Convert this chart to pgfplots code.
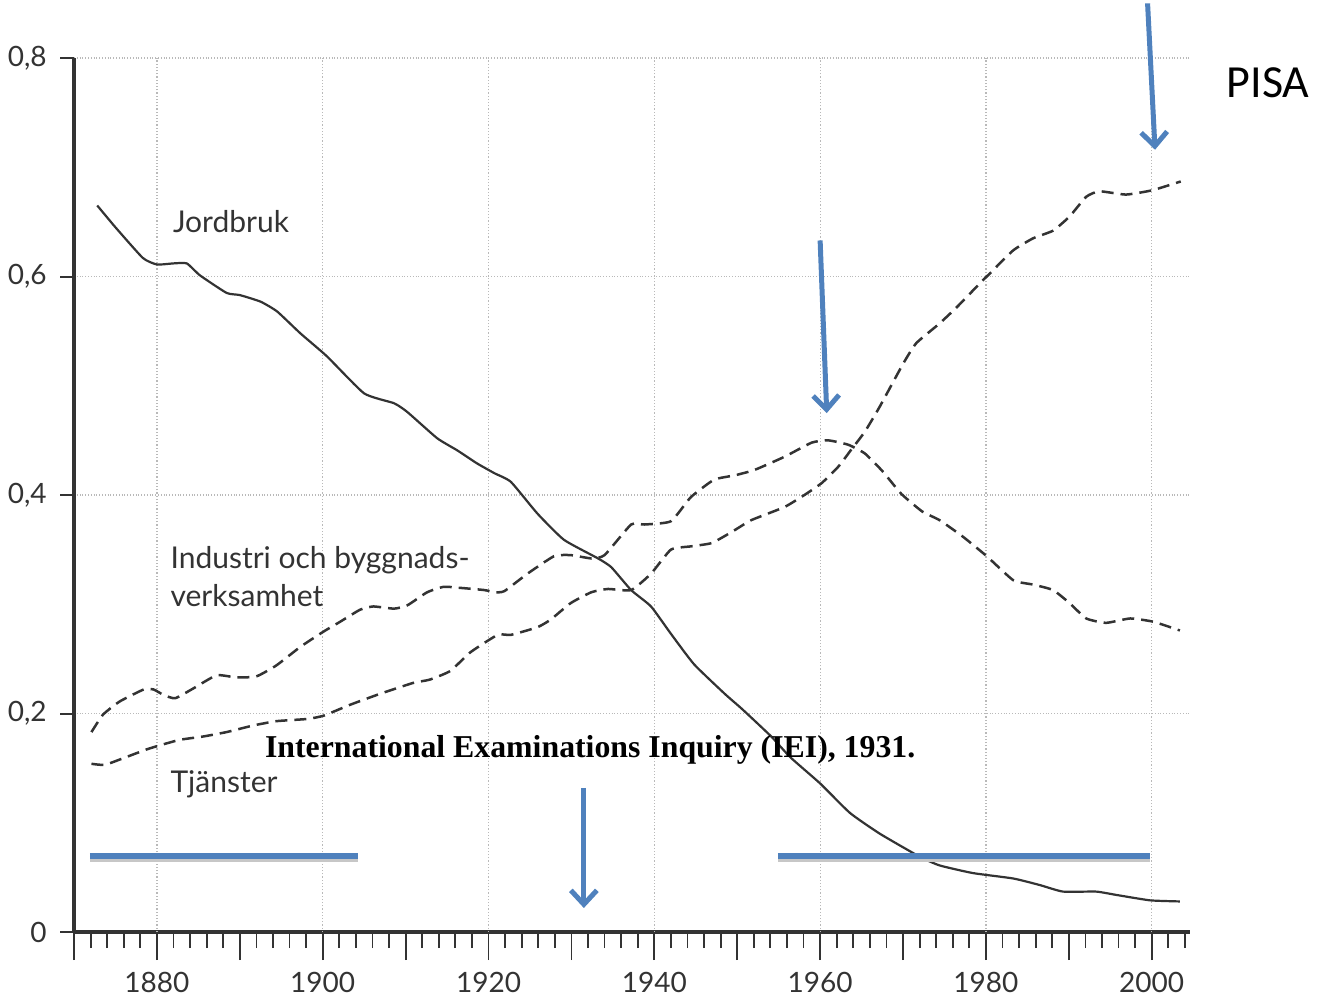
\documentclass[border=0pt]{standalone}
\usepackage{pgfplots}
\pgfplotsset{compat=1.18}
\usepackage{fontspec}
\setmainfont{Lato}
\newfontfamily\pisafont{Carlito}
\newfontfamily\timesfont{Liberation Serif}
\usetikzlibrary{arrows.meta}
\definecolor{ink}{HTML}{333333}
\definecolor{officeblue}{HTML}{4F81BD}

\pgfplotstableread{
year value
1872.8 0.665
1875.0 0.645
1878.3 0.617
1880.0 0.611
1882.0 0.612
1883.6 0.612
1885.2 0.601
1888.4 0.585
1890.0 0.583
1892.5 0.577
1894.5 0.568
1897.3 0.548
1900.5 0.527
1905.0 0.493
1908.6 0.484
1910.2 0.476
1913.8 0.452
1916.2 0.441
1918.6 0.429
1920.7 0.420
1922.7 0.412
1925.9 0.383
1929.1 0.359
1933.2 0.342
1934.8 0.334
1937.2 0.313
1939.6 0.298
1942.0 0.273
1944.8 0.245
1948.5 0.218
1950.6 0.204
1954.1 0.179
1956.4 0.160
1960.0 0.136
1963.6 0.109
1967.2 0.090
1972.0 0.069
1974.4 0.061
1978.4 0.054
1983.3 0.049
1986.5 0.043
1989.3 0.037
1993.3 0.037
1995.7 0.034
1999.8 0.029
2003.4 0.028
}\jordbruk

\pgfplotstableread{
year value
1872.1 0.183
1873.5 0.199
1875.5 0.211
1878.4 0.222
1879.6 0.222
1880.8 0.217
1882.2 0.214
1884.4 0.223
1887.2 0.235
1889.6 0.233
1892.0 0.234
1894.4 0.244
1897.3 0.261
1900.1 0.275
1902.1 0.284
1904.5 0.295
1906.1 0.298
1908.6 0.296
1910.2 0.299
1912.6 0.311
1914.6 0.316
1916.6 0.315
1919.5 0.313
1920.7 0.311
1921.9 0.312
1924.7 0.328
1927.9 0.344
1929.9 0.345
1932.4 0.342
1934.0 0.345
1937.2 0.373
1938.8 0.373
1942.0 0.376
1944.4 0.398
1947.2 0.414
1949.7 0.418
1952.1 0.423
1955.7 0.435
1959.0 0.448
1961.0 0.450
1963.4 0.446
1965.4 0.438
1967.5 0.422
1969.8 0.401
1972.3 0.385
1974.4 0.377
1977.2 0.362
1980.1 0.344
1983.3 0.322
1985.7 0.318
1988.1 0.313
1990.1 0.301
1992.1 0.287
1994.5 0.283
1997.4 0.287
2000.2 0.284
2003.4 0.276
}\industri

\pgfplotstableread{
year value
1872.1 0.154
1873.7 0.153
1875.9 0.159
1878.7 0.167
1880.4 0.171
1882.8 0.176
1885.6 0.179
1888.4 0.183
1891.6 0.189
1894.4 0.193
1898.1 0.195
1900.1 0.198
1903.3 0.208
1906.9 0.218
1910.9 0.228
1912.9 0.231
1915.4 0.239
1917.8 0.256
1921.1 0.272
1922.7 0.272
1925.9 0.279
1927.5 0.286
1929.9 0.301
1932.4 0.311
1934.4 0.314
1937.2 0.313
1939.6 0.328
1942.0 0.350
1944.4 0.353
1946.9 0.356
1949.3 0.366
1951.7 0.377
1955.7 0.389
1958.1 0.400
1960.2 0.411
1962.2 0.426
1963.8 0.442
1965.4 0.458
1967.2 0.481
1970.0 0.520
1971.6 0.539
1974.4 0.557
1976.5 0.572
1979.3 0.594
1980.5 0.603
1983.3 0.624
1985.7 0.635
1988.1 0.642
1990.1 0.655
1992.1 0.673
1993.7 0.678
1996.9 0.675
2000.1 0.679
2003.5 0.687
}\tjanster

\begin{document}
\begin{tikzpicture}
\begin{axis}[
  scale only axis, width=557.9pt, height=437pt,
  xmin=1870, xmax=2004.6, ymin=0, ymax=0.8,
  axis x line=bottom, axis y line=left,
  axis line style={ink, line width=1.6pt, -},
  clip=false,
  xtick={1870,1880,...,2000},
  xticklabels={,1880,,1900,,1920,,1940,,1960,,1980,,2000},
  minor xtick={1870,1872,...,2004},
  ytick={0.2,0.4,0.6,0.8},
  yticklabels={},
  tick align=outside,
  major tick length=14pt, minor tick length=8pt,
  xtick style={ink, line width=0.9pt},
  minor x tick style={ink, line width=0.9pt},
  ytick style={draw=none},
  ymajorgrids,
  grid style={gray!55, densely dotted, line width=0.6pt},
  tick label style={font=\fontsize{14}{16}\selectfont, text=ink},
  xticklabel style={yshift=-2.5pt},
]
% vertical 20-year grid lines
\pgfplotsinvokeforeach{1880,1900,1920,1940,1960,1980,2000}{
  \draw[gray!55, densely dotted, line width=0.6pt] (axis cs:#1,0) -- (axis cs:#1,0.8);
}
% y ticks (short, to the left)
\pgfplotsinvokeforeach{0,0.2,0.4,0.6,0.8}{
  \draw[ink, line width=1pt] (axis cs:1870,#1) -- ([xshift=-7pt]axis cs:1870,#1);
}
% y tick labels
\node[anchor=east, inner sep=0pt, text=ink, font=\fontsize{14}{16}\selectfont] at ([xshift=-13.5pt]axis cs:1870,0) {0};
\node[anchor=east, inner sep=0pt, text=ink, font=\fontsize{14}{16}\selectfont] at ([xshift=-13.5pt]axis cs:1870,0.2) {0,2};
\node[anchor=east, inner sep=0pt, text=ink, font=\fontsize{14}{16}\selectfont] at ([xshift=-13.5pt]axis cs:1870,0.4) {0,4};
\node[anchor=east, inner sep=0pt, text=ink, font=\fontsize{14}{16}\selectfont] at ([xshift=-13.5pt]axis cs:1870,0.6) {0,6};
\node[anchor=east, inner sep=0pt, text=ink, font=\fontsize{14}{16}\selectfont] at ([xshift=-13.5pt]axis cs:1870,0.8) {0,8};

\addplot[ink, line width=1.1pt, smooth, tension=0.3] table[x=year,y=value] {\jordbruk};
\addplot[ink, line width=1.25pt, smooth, tension=0.3, dash pattern=on 6pt off 3.5pt] table[x=year,y=value] {\industri};
\addplot[ink, line width=1.25pt, smooth, tension=0.3, dash pattern=on 6pt off 3.5pt] table[x=year,y=value] {\tjanster};

% series labels
\node[anchor=base west, inner sep=0, text=ink, font=\fontsize{15}{18}\selectfont] at (axis cs:1881.9,0.640) {Jordbruk};
\node[anchor=base west, inner sep=0, text=ink, font=\fontsize{15}{18}\selectfont] at (axis cs:1881.6,0.333) {Industri och byggnads-};
\node[anchor=base west, inner sep=0, text=ink, font=\fontsize{15}{18}\selectfont] at (axis cs:1881.6,0.298) {verksamhet};
\node[anchor=base west, inner sep=0, text=ink, font=\fontsize{15}{18}\selectfont] at (axis cs:1881.6,0.128) {Tjänster};

% overlays
\draw[black!22, line width=3pt] ([yshift=-1.5pt]axis cs:1871.9,0.0696) -- ([yshift=-1.5pt]axis cs:1904.2,0.0696);
\draw[black!22, line width=3pt] ([yshift=-1.5pt]axis cs:1954.9,0.0696) -- ([yshift=-1.5pt]axis cs:1999.8,0.0696);
\draw[officeblue, line width=3pt] (axis cs:1871.9,0.0696) -- (axis cs:1904.2,0.0696);
\draw[officeblue, line width=3pt] (axis cs:1954.9,0.0696) -- (axis cs:1999.8,0.0696);

\draw[officeblue, line width=2.5pt, -{Straight Barb[length=7pt,width=13pt]}] (axis cs:1931.5,0.132) -- (axis cs:1931.5,0.022);
\draw[officeblue, line width=2.5pt, -{Straight Barb[length=7pt,width=13pt]}] (axis cs:1960.0,0.633) -- (axis cs:1960.8,0.475);
\draw[officeblue, line width=2.5pt, -{Straight Barb[length=7pt,width=13pt]}] (axis cs:1999.5,0.850) -- (axis cs:2000.4,0.716);

\node[anchor=base west, inner sep=0, font=\pisafont\fontsize{23}{28}\selectfont] at (axis cs:2009.0,0.764) {PISA};
\node[anchor=base west, inner sep=0, font=\timesfont\bfseries\fontsize{15.9}{18}\selectfont] at (axis cs:1893.0,0.160) {International Examinations Inquiry (IEI), 1931.};

\coordinate (bbll) at (axis cs:1861.07,-0.06133);
\coordinate (bbur) at (axis cs:2020.30,0.8531);
\end{axis}
\pgfresetboundingbox
\path[use as bounding box] (bbll) rectangle (bbur);
\end{tikzpicture}
\end{document}
